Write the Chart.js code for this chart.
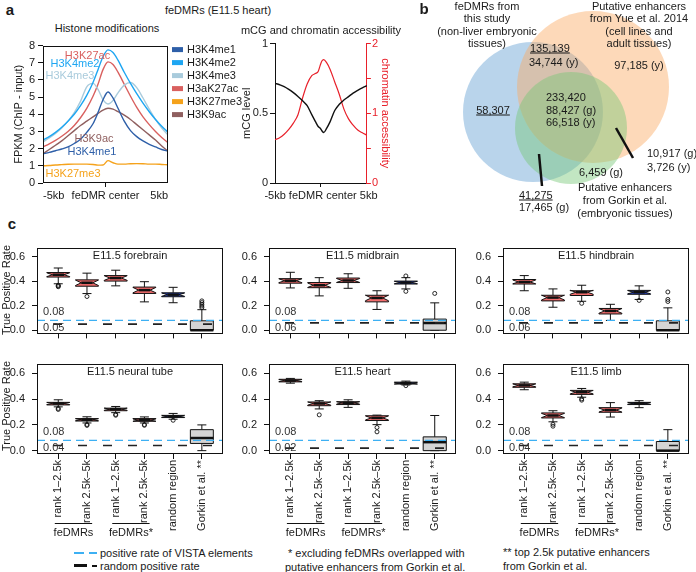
<!DOCTYPE html>
<html><head><meta charset="utf-8"><title>feDMRs (E11.5 heart)</title>
<script src="https://cdn.jsdelivr.net/npm/chart.js@4.4.1/dist/chart.umd.min.js"></script>
<style>
html,body{margin:0;padding:0;background:#fff}
body{position:relative;width:696px;height:572px;overflow:hidden;font-family:"Liberation Sans",Arial,Helvetica,sans-serif;color:#1a1a1a}
canvas{position:absolute;z-index:1}
.t{position:absolute;font-size:11px;line-height:13px;white-space:nowrap;z-index:2}
.c{transform:translate(-50%,-50%)}
.l{transform:translateY(-50%)}
.u{text-decoration:underline}
.b{font-weight:bold;font-size:15px}
.r{transform:translate(-50%,-50%) rotate(-90deg)}
.d{position:absolute;z-index:2}
</style></head><body>
<!-- panel a -->
<div class="t b c" style="left:10px;top:9px">a</div>
<div class="t c" style="left:218px;top:10px">feDMRs (E11.5 heart)</div>
<div class="t c" style="left:107px;top:28px">Histone modifications</div>
<div class="t c" style="left:321px;top:30px">mCG and chromatin accessibility</div>
<!-- panel b -->
<div class="t b c" style="left:424px;top:8px">b</div>
<div class="t c" style="left:487px;top:6px">feDMRs from</div>
<div class="t c" style="left:487px;top:18px">this study</div>
<div class="t c" style="left:487px;top:31px">(non-liver embryonic</div>
<div class="t c" style="left:487px;top:43px">tissues)</div>
<div class="t c" style="left:639px;top:6px">Putative enhancers</div>
<div class="t c" style="left:639px;top:18px">from Yue et al. 2014</div>
<div class="t c" style="left:639px;top:31px">(cell lines and</div>
<div class="t c" style="left:639px;top:43px">adult tissues)</div>
<div class="t l u" style="left:530px;top:48px">135,139</div>
<div class="t l" style="left:529px;top:62px">34,744 (y)</div>
<div class="t c" style="left:639px;top:65px">97,185 (y)</div>
<div class="t c u" style="left:493px;top:110px">58,307</div>
<div class="t l" style="left:546px;top:97px">233,420</div>
<div class="t l" style="left:546px;top:110px">88,427 (g)</div>
<div class="t l" style="left:546px;top:122px">66,518 (y)</div>
<div class="t l" style="left:647px;top:153px">10,917 (g)</div>
<div class="t l" style="left:647px;top:167px">3,726 (y)</div>
<div class="t l" style="left:579px;top:172px">6,459 (g)</div>
<div class="t c" style="left:625px;top:187px">Putative enhancers</div>
<div class="t c" style="left:625px;top:200px">from Gorkin et al.</div>
<div class="t c" style="left:625px;top:213px">(embryonic tissues)</div>
<div class="t l u" style="left:519px;top:195px">41,275</div>
<div class="t l" style="left:519px;top:207px">17,465 (g)</div>
<!-- panel c -->
<div class="t b c" style="left:12px;top:223px">c</div>
<div class="t r" style="left:6px;top:290px">True Positive Rate</div>
<div class="t r" style="left:6px;top:406px">True Positive Rate</div>
<div class="d" style="left:74px;top:552px;width:10px;height:1.5px;background:#3db0f3"></div>
<div class="d" style="left:89px;top:552px;width:8px;height:1.5px;background:#3db0f3"></div>
<div class="t l" style="left:100px;top:553px">positive rate of VISTA elements</div>
<div class="d" style="left:74px;top:564px;width:13px;height:3px;background:#111"></div>
<div class="d" style="left:92px;top:565px;width:5px;height:2px;background:#111"></div>
<div class="t l" style="left:100px;top:566px">random positive rate</div>
<div class="t l" style="left:288px;top:553px">* excluding feDMRs overlapped with</div>
<div class="t l" style="left:285px;top:567px">putative enhancers from Gorkin et al.</div>
<div class="t l" style="left:503px;top:552px">** top 2.5k putative enhancers</div>
<div class="t l" style="left:503px;top:566px">from Gorkin et al.</div>
<script>
// ================= DATA =================
// Panel a (left): histone modification profiles around feDMR centres (kb)
const kbPositions = [-5,-4.5,-4,-3.5,-3,-2.5,-2,-1.5,-1,-0.6,-0.2,0.2,0.6,1,1.5,2,2.5,3,3.5,4,4.5,5];
const histoneMarks = ['H3K4me1','H3K4me2','H3K4me3','H3aK27ac','H3K27me3','H3K9ac'];
const H3K4me1  = [1.7,1.78,1.88,1.98,2.1,2.3,2.55,2.95,3.45,4.1,4.85,5.3,4.95,4.35,3.6,3.05,2.7,2.45,2.25,2.1,1.95,1.85];
const H3K4me2  = [2.5,2.7,2.95,3.25,3.6,4.0,4.5,5.1,5.85,6.6,7.35,7.75,7.6,7.15,6.45,5.8,5.2,4.65,4.15,3.7,3.3,2.95];
const H3K4me3  = [2.4,2.62,2.88,3.2,3.6,4.1,4.75,5.6,5.8,5.45,4.85,4.6,4.8,5.25,5.7,5.85,5.55,4.95,4.3,3.7,3.2,2.8];
const H3aK27ac = [2.1,2.28,2.48,2.72,3.0,3.35,3.8,4.35,5.05,5.75,6.6,7.05,6.9,6.45,5.75,5.05,4.4,3.85,3.4,3.0,2.65,2.35];
const H3K27me3 = [1.0,1.02,1.05,1.07,1.09,1.1,1.1,1.1,1.08,1.04,1.05,1.3,1.18,1.1,1.1,1.12,1.13,1.12,1.1,1.1,1.08,1.06];
const H3K9ac   = [1.7,1.95,2.2,2.45,2.75,3.05,3.35,3.6,3.85,4.05,4.25,4.35,4.3,4.15,3.95,3.7,3.4,3.1,2.8,2.5,2.15,1.85];
const histoneValues = [H3K4me1,H3K4me2,H3K4me3,H3aK27ac,H3K27me3,H3K9ac];
const histoneCurveLabels = ['H3K4me1','H3K4me2','H3K4me3','H3K27ac','H3K27me3','H3K9ac'];
const profileTickValues = [-5,0,5];
const profileTickLabels = ['-5kb','feDMR center','5kb'];
const profileTickLabel2 = '-5kb feDMR center 5kb';
// Panel a (right): mCG level and chromatin accessibility
const kbPositions2 = [-5,-4.5,-4,-3.5,-3,-2.5,-2,-1.5,-1,-0.6,-0.3,-0.1,0.1,0.3,0.6,1,1.5,2,2.5,3,3.5,4,4.5,5];
const mcgLevel = [0.715,0.705,0.692,0.672,0.648,0.62,0.59,0.555,0.49,0.44,0.405,0.395,0.375,0.362,0.39,0.44,0.52,0.565,0.595,0.62,0.645,0.665,0.683,0.698];
const accessibility = [0.62,0.65,0.7,0.77,0.86,0.98,1.22,1.42,1.54,1.57,1.6,1.68,1.75,1.77,1.73,1.63,1.45,1.27,1.06,0.92,0.83,0.76,0.72,0.686];
// Panel b: Venn diagram circles
const vennSets = ['feDMRs from this study','Putative enhancers from Yue et al. 2014','Putative enhancers from Gorkin et al.'];
const vennCenterX = [533,593,571];
const vennCenterY = [112,87,128];
const vennRadius = [70,76,56];
// Panel c: box plots [lower whisker, Q1, median, Q3, upper whisker]
const boxCategories = ['rank 1\u20132.5k','rank 2.5k\u20135k','rank 1\u20132.5k','rank 2.5k\u20135k','random region','Gorkin et al. **'];
const tissues = ['E11.5 forebrain','E11.5 midbrain','E11.5 hindbrain','E11.5 neural tube','E11.5 heart','E11.5 limb'];
const vistaRate = 0.08;
const randomRate = [0.05,0.06,0.06,0.04,0.02,0.04];
const forebrainStats  = [[0.38,0.435,0.454,0.472,0.509],[0.30,0.36,0.388,0.412,0.467],[0.363,0.402,0.427,0.447,0.491],[0.232,0.301,0.328,0.353,0.397],[0.225,0.274,0.291,0.306,0.351],[0,0,0,0.077,0.168]];
const midbrainStats   = [[0.346,0.385,0.405,0.422,0.474],[0.281,0.348,0.368,0.39,0.43],[0.343,0.39,0.407,0.427,0.462],[0.17,0.232,0.264,0.286,0.323],[0.338,0.378,0.39,0.402,0.43],[0,0,0.059,0.091,0.224]];
const hindbrainStats  = [[0.323,0.378,0.395,0.415,0.447],[0.188,0.24,0.267,0.286,0.338],[0.237,0.284,0.311,0.323,0.368],[0.08,0.133,0.158,0.178,0.212],[0.252,0.294,0.311,0.326,0.363],[0,0,0,0.077,0.183]];
const neuralTubeStats = [[0.34,0.355,0.366,0.375,0.395],[0.215,0.23,0.24,0.249,0.263],[0.295,0.31,0.322,0.33,0.343],[0.215,0.228,0.237,0.249,0.262],[0.244,0.257,0.267,0.274,0.289],[0,0.056,0.098,0.163,0.2]];
const heartStats      = [[0.524,0.534,0.544,0.554,0.561],[0.324,0.349,0.366,0.378,0.388],[0.336,0.358,0.371,0.38,0.395],[0.202,0.234,0.254,0.271,0.276],[0.51,0.517,0.524,0.532,0.54],[0,0,0.066,0.107,0.273]];
const limbStats       = [[0.473,0.492,0.507,0.519,0.532],[0.224,0.254,0.273,0.293,0.31],[0.415,0.437,0.454,0.468,0.483],[0.261,0.298,0.315,0.334,0.373],[0.334,0.358,0.368,0.375,0.388],[0,0,0,0.071,0.163]];
const forebrainOutliers  = [[0.368,0.362,0.356],[0.276],[],[],[],[0.185,0.198,0.212,0.226,0.24]];
const midbrainOutliers   = [[],[],[],[],[0.444,0.318],[0.301]];
const hindbrainOutliers  = [[],[],[0.22],[],[0.244],[0.313,0.252,0.235]];
const neuralTubeOutliers = [[0.328,0.32],[0.203,0.196],[0.281,0.275],[0.202,0.197],[0.236],[]];
const heartOutliers      = [[],[0.278],[],[0.18,0.146],[0.505],[]];
const limbOutliers       = [[],[0.205,0.19],[0.402,0.392],[],[],[]];
const boxYTicks = [0,0.2,0.4,0.6];
const allStats = [forebrainStats,midbrainStats,hindbrainStats,neuralTubeStats,heartStats,limbStats];
const allOutliers = [forebrainOutliers,midbrainOutliers,hindbrainOutliers,neuralTubeOutliers,heartOutliers,limbOutliers];

// ================= SETUP =================
const FONT = '"Liberation Sans", Arial, sans-serif';
Chart.defaults.font.family = FONT;
Chart.defaults.font.size = 11;
Chart.defaults.color = '#1a1a1a';
Chart.defaults.animation = false;
Chart.defaults.events = [];
Chart.defaults.plugins.legend.display = false;
Chart.defaults.plugins.tooltip.enabled = false;

function mk(left, top, w, h) {
  const c = document.createElement('canvas');
  c.width = w; c.height = h;
  c.style.left = left + 'px'; c.style.top = top + 'px';
  c.style.width = w + 'px'; c.style.height = h + 'px';
  document.body.appendChild(c);
  return c.getContext('2d');
}
const fixW = w => s => { s.width = w; };
const fixH = h => s => { s.height = h; };
const setTicks = vals => s => { s.ticks = vals.map(v => ({value: v})); };

const framePlugin = {
  id: 'frame',
  afterDatasetsDraw(chart) {
    const o = chart.options.plugins.frame;
    if (!o || !o.on) return;
    const {ctx, chartArea: a} = chart;
    ctx.save(); ctx.strokeStyle = '#111'; ctx.lineWidth = 1;
    ctx.strokeRect(Math.round(a.left) + 0.5, Math.round(a.top) + 0.5, Math.round(a.right - a.left) - 1, Math.round(a.bottom - a.top) - 1);
    ctx.restore();
  }
};

// ================= PANEL a (left) =================
const histoneColors = ['#2e5fa8','#1ea6f2','#a9cbdc','#d9605f','#f5a21b','#8f5f5f'];
const curveLabelPos = [[-1.08,1.78],[-2.44,6.91],[-2.84,6.22],[-1.44,7.42],[-2.6,0.52],[-0.92,2.59]];
const histPlugin = {
  id: 'hist',
  afterDraw(chart) {
    const {ctx, chartArea: a, scales: {x, y}} = chart;
    ctx.save();
    ctx.font = '11px ' + FONT; ctx.textBaseline = 'middle';
    chart.data.datasets.forEach((d, i) => {
      const cy = a.top + 4 + 13 * i;
      ctx.fillStyle = d.borderColor;
      ctx.fillRect(a.right + 4, cy - 2.5, 11, 5);
      ctx.fillStyle = '#1a1a1a'; ctx.textAlign = 'left';
      ctx.fillText(d.label, a.right + 19, cy);
      ctx.fillStyle = d.borderColor; ctx.textAlign = 'center';
      ctx.fillText(histoneCurveLabels[i], x.getPixelForValue(curveLabelPos[i][0]), y.getPixelForValue(curveLabelPos[i][1]));
    });
    ctx.restore();
  }
};
new Chart(mk(12, 36, 232, 167), {
  type: 'line',
  data: {datasets: histoneMarks.map((m, i) => ({
    label: m, data: kbPositions.map((k, j) => ({x: k, y: histoneValues[i][j]})),
    borderColor: histoneColors[i], borderWidth: 1.4, pointRadius: 0, cubicInterpolationMode: 'monotone', fill: false
  }))},
  options: {
    responsive: false,
    layout: {padding: {top: 8, right: 76, left: 0, bottom: 0}},
    scales: {
      x: {type: 'linear', min: -5, max: 5, afterBuildTicks: setTicks(profileTickValues), afterFit: fixH(20),
          ticks: {autoSkip: false, maxRotation: 0, align: 'inner', padding: 2, callback: v => profileTickLabels[profileTickValues.indexOf(v)]},
          grid: {drawOnChartArea: false, tickLength: 4, color: c => (c.tick && c.tick.value === 0) ? '#111' : 'rgba(0,0,0,0)'},
          border: {display: false}},
      y: {min: 0, max: 8, afterBuildTicks: setTicks([0,1,2,3,4,5,6,7,8]), afterFit: fixW(31),
          ticks: {padding: 3, callback: v => String(v)},
          grid: {drawOnChartArea: false, tickLength: 5, color: '#111'}, border: {display: false},
          title: {display: true, text: 'FPKM (ChIP - input)', padding: 0}}
    },
    plugins: {frame: {on: true}}
  },
  plugins: [framePlugin, histPlugin]
});

// ================= PANEL a (right) =================
const RED = '#e8202a';
new Chart(mk(240, 35, 152, 168), {
  type: 'line',
  data: {datasets: [
    {label: 'mCG level', yAxisID: 'y', data: kbPositions2.map((k, j) => ({x: k, y: mcgLevel[j]})), borderColor: '#111', borderWidth: 1.4, pointRadius: 0, cubicInterpolationMode: 'monotone'},
    {label: 'chromatin accessibility', yAxisID: 'y1', data: kbPositions2.map((k, j) => ({x: k, y: accessibility[j]})), borderColor: RED, borderWidth: 1.2, pointRadius: 0, cubicInterpolationMode: 'monotone'}
  ]},
  options: {
    responsive: false,
    layout: {padding: {top: 8, right: 0, left: 0, bottom: 0}},
    scales: {
      x: {type: 'linear', min: -5, max: 5, afterBuildTicks: setTicks([0]), afterFit: fixH(20),
          ticks: {autoSkip: false, maxRotation: 0, padding: 2, callback: () => profileTickLabel2},
          grid: {drawOnChartArea: false, tickLength: 4, color: '#111'},
          border: {display: true, color: '#111'}},
      y: {position: 'left', min: 0, max: 1, afterBuildTicks: setTicks([0,0.5,1]), afterFit: fixW(35),
          ticks: {padding: 2, callback: v => String(v)},
          grid: {drawOnChartArea: false, tickLength: 5, color: '#111'}, border: {display: true, color: '#111'},
          title: {display: true, text: 'mCG level', padding: 0}},
      y1: {position: 'right', min: 0, max: 2, afterBuildTicks: setTicks([0,0.5,1,1.5,2]), afterFit: fixW(25),
          ticks: {padding: 1, color: RED, callback: v => (v % 1 === 0 ? String(v) : '')},
          grid: {drawOnChartArea: false, tickLength: 4, color: RED}, border: {display: true, color: RED},
          title: {display: true, text: 'chromatin accessibility', color: RED, padding: 0}}
    }
  }
});

// ================= PANEL b: Venn =================
const vennColors = ['rgba(100,160,210,0.45)','rgba(250,170,100,0.45)','rgba(120,200,120,0.45)'];
const vennPlugin = {
  id: 'venn',
  beforeDatasetsDraw(chart) {
    const {ctx, scales: {x, y}} = chart;
    ctx.save();
    chart.data.datasets.forEach((d, i) => {
      const p = d.data[0];
      const cx = x.getPixelForValue(p.x), cy = y.getPixelForValue(p.y);
      const r = Math.abs(x.getPixelForValue(p.x + vennRadius[i]) - cx);
      ctx.beginPath(); ctx.arc(cx, cy, r, 0, Math.PI * 2);
      ctx.fillStyle = vennColors[i]; ctx.fill();
    });
    ctx.strokeStyle = '#111'; ctx.lineWidth = 2.5;
    [[616,128,633,158],[539,154,542,186]].forEach(p => {
      ctx.beginPath();
      ctx.moveTo(x.getPixelForValue(p[0]), y.getPixelForValue(p[1]));
      ctx.lineTo(x.getPixelForValue(p[2]), y.getPixelForValue(p[3]));
      ctx.stroke();
    });
    ctx.restore();
  }
};
new Chart(mk(440, 0, 256, 220), {
  type: 'scatter',
  data: {datasets: vennSets.map((s, i) => ({
    label: s, data: [{x: vennCenterX[i], y: vennCenterY[i]}], pointRadius: 0
  }))},
  options: {
    responsive: false, layout: {padding: 0},
    scales: {x: {display: false, min: 440, max: 696}, y: {display: false, min: 0, max: 220, reverse: true}}
  },
  plugins: [vennPlugin]
});

// ================= PANEL c: box plots =================
const boxFill = ['#f26c6c','#f26c6c','#f26c6c','#f26c6c','#2645c8','#d4d4d4'];
const boxNotched = [true,true,true,true,true,false];
const boxHalfWidth = 0.4;
const X_MIN = 0.26, X_MAX = 6.74;
const boxPlugin = {
  id: 'boxes',
  beforeDatasetsDraw(chart) {
    const o = chart.options.plugins.boxes;
    const {ctx, scales: {x, y}} = chart;
    ctx.save();
    allStats[o.panel].forEach((s, i) => {
      const cx = x.getPixelForValue(i + 1);
      const hw = x.getPixelForValue(i + 1 + boxHalfWidth) - cx;
      const cap = 4.5;
      const [lo, q1, md, q3, hi] = s.map(v => y.getPixelForValue(v));
      const notch = boxNotched[i] ? 0.85 * (q1 - q3) / 2 : 0;
      ctx.strokeStyle = '#111'; ctx.lineWidth = 1;
      ctx.beginPath();
      ctx.moveTo(cx, q3); ctx.lineTo(cx, hi);
      ctx.moveTo(cx, q1); ctx.lineTo(cx, lo);
      ctx.moveTo(cx - cap, hi); ctx.lineTo(cx + cap, hi);
      ctx.moveTo(cx - cap, lo); ctx.lineTo(cx + cap, lo);
      ctx.stroke();
      ctx.beginPath();
      if (notch > 0) {
        ctx.moveTo(cx - hw, q1); ctx.lineTo(cx - hw, md + notch); ctx.lineTo(cx - hw / 2, md);
        ctx.lineTo(cx - hw, md - notch); ctx.lineTo(cx - hw, q3); ctx.lineTo(cx + hw, q3);
        ctx.lineTo(cx + hw, md - notch); ctx.lineTo(cx + hw / 2, md); ctx.lineTo(cx + hw, md + notch);
        ctx.lineTo(cx + hw, q1);
      } else {
        ctx.rect(cx - hw, q3, 2 * hw, q1 - q3);
      }
      ctx.closePath();
      ctx.fillStyle = boxFill[i]; ctx.fill(); ctx.stroke();
      const mw = notch > 0 ? hw / 2 : hw;
      ctx.lineWidth = 2.5;
      ctx.beginPath(); ctx.moveTo(cx - mw, md); ctx.lineTo(cx + mw, md); ctx.stroke();
    });
    ctx.restore();
  },
  afterDraw(chart) {
    const o = chart.options.plugins.boxes;
    const {ctx, chartArea: a, scales: {x, y}} = chart;
    ctx.save();
    ctx.strokeStyle = '#111'; ctx.lineWidth = 1;
    ctx.strokeRect(Math.round(a.left) + 0.5, Math.round(a.top) + 0.5, Math.round(a.right - a.left) - 1, Math.round(a.bottom - a.top) - 1);
    ctx.font = '11px ' + FONT; ctx.fillStyle = '#1a1a1a';
    ctx.textAlign = 'center'; ctx.textBaseline = 'middle';
    ctx.fillText(tissues[o.panel], (a.left + a.right) / 2, a.top + 8);
    ctx.textAlign = 'left'; ctx.fillStyle = '#333';
    ctx.fillText(vistaRate.toFixed(2), a.left + 6, y.getPixelForValue(vistaRate) - 8);
    ctx.fillText(randomRate[o.panel].toFixed(2), a.left + 6, y.getPixelForValue(0.018));
    if (o.bottom) {
      ctx.fillStyle = '#1a1a1a'; ctx.textAlign = 'center';
      [['feDMRs', 1, 2], ['feDMRs*', 3, 4]].forEach(g => {
        const x0 = x.getPixelForValue(g[1] - 0.12), x1 = x.getPixelForValue(g[2] + 0.18);
        ctx.beginPath(); ctx.moveTo(x0, a.bottom + 69.5); ctx.lineTo(x1, a.bottom + 69.5); ctx.stroke();
        ctx.fillText(g[0], (x0 + x1) / 2, a.bottom + 79);
      });
    }
    ctx.restore();
  }
};
function boxPanel(idx, L, T, R, B, bottomRow) {
  const axisH = bottomRow ? 90 : 10;
  const outlierPts = [];
  allOutliers[idx].forEach((arr, i) => arr.forEach(v => outlierPts.push({x: i + 1, y: v})));
  new Chart(mk(L - 36, T - 8, R - L + 40, B - T + 8 + axisH), {
    type: 'scatter',
    data: {datasets: [
      {type: 'line', label: 'positive rate of VISTA elements', data: [{x: X_MIN, y: vistaRate}, {x: X_MAX, y: vistaRate}],
       borderColor: '#3db0f3', borderWidth: 1.3, borderDash: [8, 5], pointRadius: 0},
      {type: 'line', label: 'random positive rate', data: [{x: X_MIN, y: randomRate[idx]}, {x: X_MAX, y: randomRate[idx]}],
       borderColor: '#222', borderWidth: 1.6, borderDash: [9, 16], borderDashOffset: 9, pointRadius: 0},
      {label: 'outliers', data: outlierPts, pointRadius: 2, pointBackgroundColor: 'rgba(255,255,255,0)', pointBorderColor: '#111', pointBorderWidth: 0.9}
    ]},
    options: {
      responsive: false,
      layout: {padding: {top: 8, right: 4, left: 0, bottom: 0}},
      scales: {
        x: {type: 'linear', min: X_MIN, max: X_MAX, afterBuildTicks: setTicks([1,2,3,4,5,6]), afterFit: fixH(axisH),
            ticks: {autoSkip: false, minRotation: bottomRow ? 90 : 0, maxRotation: bottomRow ? 90 : 0, padding: 1,
                    callback: v => bottomRow ? boxCategories[v - 1] : ''},
            grid: {drawOnChartArea: false, tickLength: 5, color: '#111'}, border: {display: false}},
        y: {min: -0.026, max: 0.676, afterBuildTicks: setTicks(boxYTicks), afterFit: fixW(36),
            ticks: {padding: 7, callback: v => v.toFixed(1)},
            grid: {drawOnChartArea: false, tickLength: 5, color: '#111'}, border: {display: false}}
      },
      plugins: {boxes: {panel: idx, bottom: bottomRow}}
    },
    plugins: [boxPlugin]
  });
}
boxPanel(0, 37, 242, 224, 337, false);
boxPanel(1, 269, 242, 457, 337, false);
boxPanel(2, 503, 242, 690, 337, false);
boxPanel(3, 37, 358, 224, 454, true);
boxPanel(4, 269, 358, 457, 454, true);
boxPanel(5, 503, 358, 690, 454, true);
</script>
</body></html>
